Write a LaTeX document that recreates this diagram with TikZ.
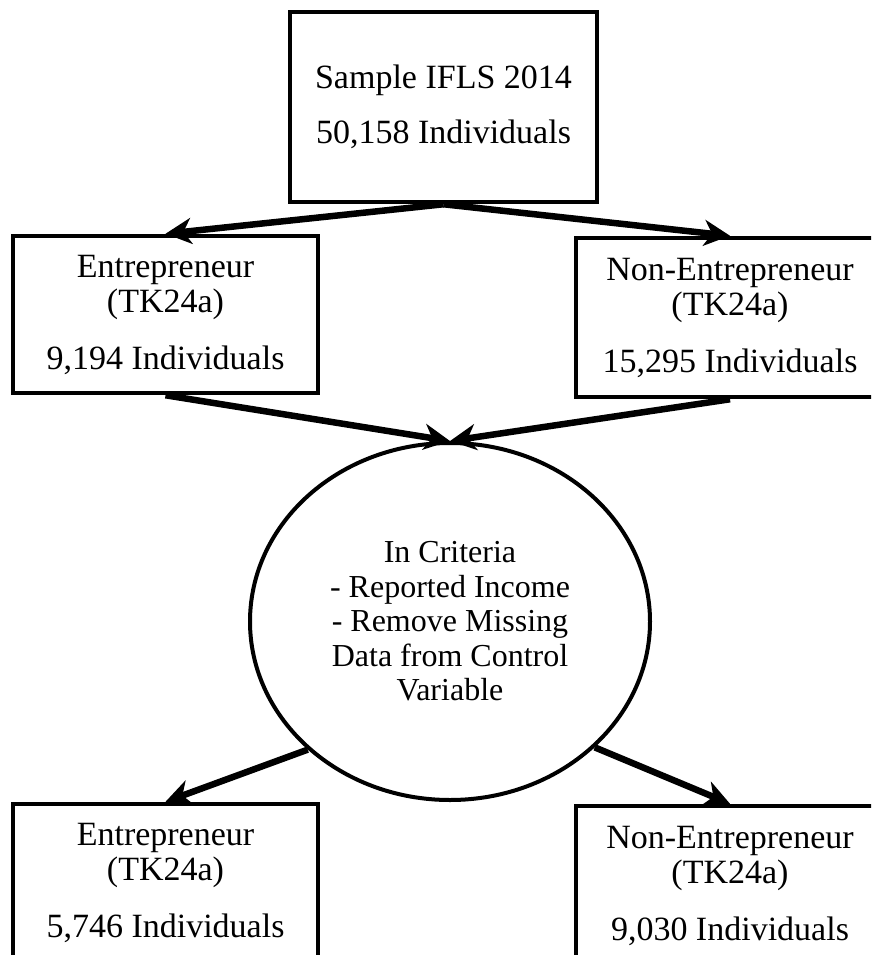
\documentclass[tikz,border=0pt]{standalone}
\usepackage{fontspec}
\setmainfont{Liberation Serif}
\usepackage{tikz}
\usetikzlibrary{arrows.meta,shapes.geometric}

\begin{document}
\begin{tikzpicture}[x=1pt, y=-1pt]
            \tikzstyle{box} = [draw=black, line width=4.5pt, fill=white, minimum width=305pt, minimum height=157pt, inner sep=0pt, font=\fontsize{34}{35}\selectfont, align=center]
            \tikzstyle{criteria} = [ellipse, draw=black, line width=4pt, minimum width=400pt, minimum height=357pt, inner sep=0pt, font=\fontsize{32}{34.5}\selectfont, align=center]
            \tikzstyle{arrow} = [-{Stealth[length=26pt, width=26pt, inset=8pt]}, line width=6.5pt, black]
            \clip (0,0) rectangle (871,955);

            % Sample
            \node[box, minimum width=307pt, minimum height=190pt] (sample) at (443.5,107) {Sample IFLS 2014\\[20pt]50,158 Individuals};

            % Before criteria
            \node[box] (ent1) at (165.5,314.5) {Entrepreneur\\(TK24a)\\[22pt]9,194 Individuals};
            \node[box, minimum width=308pt, minimum height=159pt] (non1) at (730,317.5) {Non-Entrepreneur\\(TK24a)\\[22pt]15,295 Individuals};
            \draw[arrow] (sample.south) -- (ent1.north);
            \draw[arrow] (sample.south) -- (non1.north);

            % Criteria
            \node[criteria] (crit) at (450,621.5) {In Criteria\\- Reported Income\\- Remove Missing\\Data from Control\\Variable};
            \draw[arrow] (ent1.south) -- (crit.north);
            \draw[arrow] (non1.south) -- (crit.north);

            % After criteria
            \node[box] (ent2) at (165.5,882.5) {Entrepreneur\\(TK24a)\\[22pt]5,746 Individuals};
            \node[box, minimum width=308pt, minimum height=159pt] (non2) at (730,885.5) {Non-Entrepreneur\\(TK24a)\\[22pt]9,030 Individuals};
            \draw[arrow] (crit.222) -- (ent2.north);
            \draw[arrow] (crit.-41) -- (non2.north);
        \end{tikzpicture}
\end{document}
